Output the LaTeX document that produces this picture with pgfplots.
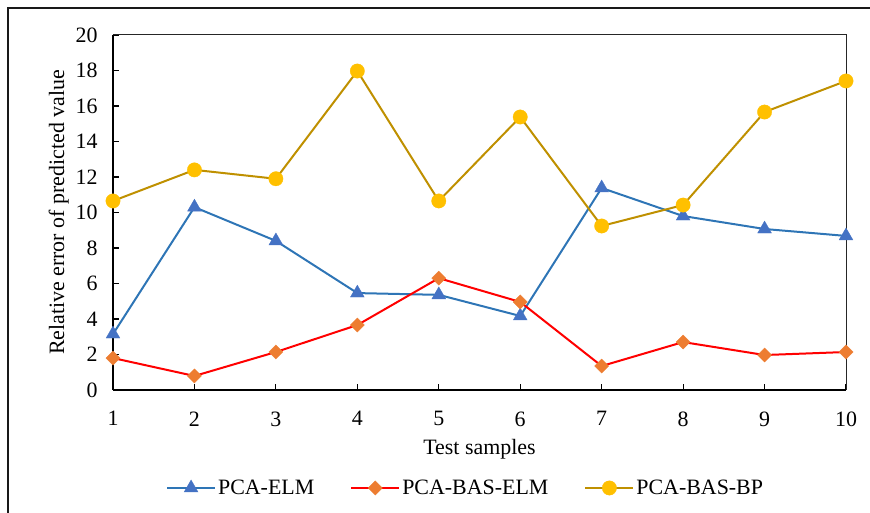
\documentclass[border=0pt]{standalone}
\usepackage{pgfplots}
\pgfplotsset{compat=1.18}
\usepackage{fontspec}
\setmainfont{Liberation Serif}
\definecolor{elmline}{HTML}{2E75B6}
\definecolor{elmmark}{HTML}{4472C4}
\definecolor{basline}{HTML}{FF0000}
\definecolor{basmark}{HTML}{ED7D31}
\definecolor{bpline}{HTML}{BF9000}
\definecolor{bpmark}{HTML}{FFC000}
\begin{document}
\begin{tikzpicture}[x=1bp,y=1bp,font=\fontsize{22}{26}\selectfont]
\useasboundingbox (-113,-123) rectangle (757,390);
\begin{axis}[
  at={(0,0)}, anchor=south west,
  scale only axis, width=733bp, height=355bp,
  xmin=1, xmax=10, ymin=0, ymax=20,
  xtick={1,...,10}, ytick={0,2,...,20},
  axis lines*=left,
  axis line style={black, line width=1.3bp},
  tick align=inside, major tick length=6bp,
  tick style={black, line width=1.1bp},
  /pgf/number format/assume math mode=true,
  tick label style={font=\fontsize{22}{26}\selectfont},
  xticklabel style={yshift=-18bp},
  yticklabel style={xshift=-12bp},
  xlabel={Test samples},
  ylabel={Relative error of predicted value},
  label style={font=\fontsize{22}{26}\selectfont},
  xlabel style={yshift=-6bp},
  ylabel style={yshift=0bp},
  legend columns=3,
  legend style={draw=none, at={(0.481,-0.276)}, anchor=center,
    font=\fontsize{22}{26}\selectfont,
    /tikz/every even column/.append style={column sep=34bp}},
  legend image code/.code={\draw[mark repeat=2,mark phase=2] plot coordinates {(0bp,0bp)(24bp,0bp)(48bp,0bp)};},
  clip=false,
]
\addplot[elmline, line width=2bp, mark=triangle*, mark size=8bp,
  mark options={fill=elmmark, draw=elmmark, line width=0.3bp}]
  coordinates {(1,3.15)(2,10.3)(3,8.4)(4,5.46)(5,5.36)(6,4.17)(7,11.38)(8,9.8)(9,9.07)(10,8.68)};
\addlegendentry{PCA-ELM}
\addplot[basline, line width=2bp, mark=square*, mark size=5bp,
  mark options={fill=basmark, draw=basmark, line width=0.3bp, rotate=45}]
  coordinates {(1,1.8)(2,0.79)(3,2.14)(4,3.66)(5,6.3)(6,4.96)(7,1.35)(8,2.7)(9,1.97)(10,2.14)};
\addlegendentry{PCA-BAS-ELM}
\addplot[bpline, line width=2bp, mark=*, mark size=7.2bp,
  mark options={fill=bpmark, draw=bpmark, line width=0.3bp}]
  coordinates {(1,10.65)(2,12.4)(3,11.9)(4,17.97)(5,10.65)(6,15.38)(7,9.24)(8,10.42)(9,15.66)(10,17.41)};
\addlegendentry{PCA-BAS-BP}
\draw[black!85, line width=1bp] (rel axis cs:0,1) -- (rel axis cs:1,1) -- (rel axis cs:1,0);
\end{axis}
\draw[black!90, line width=1.5bp] (-105,-140) -- (-105,382) -- (770,382);
\end{tikzpicture}
\end{document}
